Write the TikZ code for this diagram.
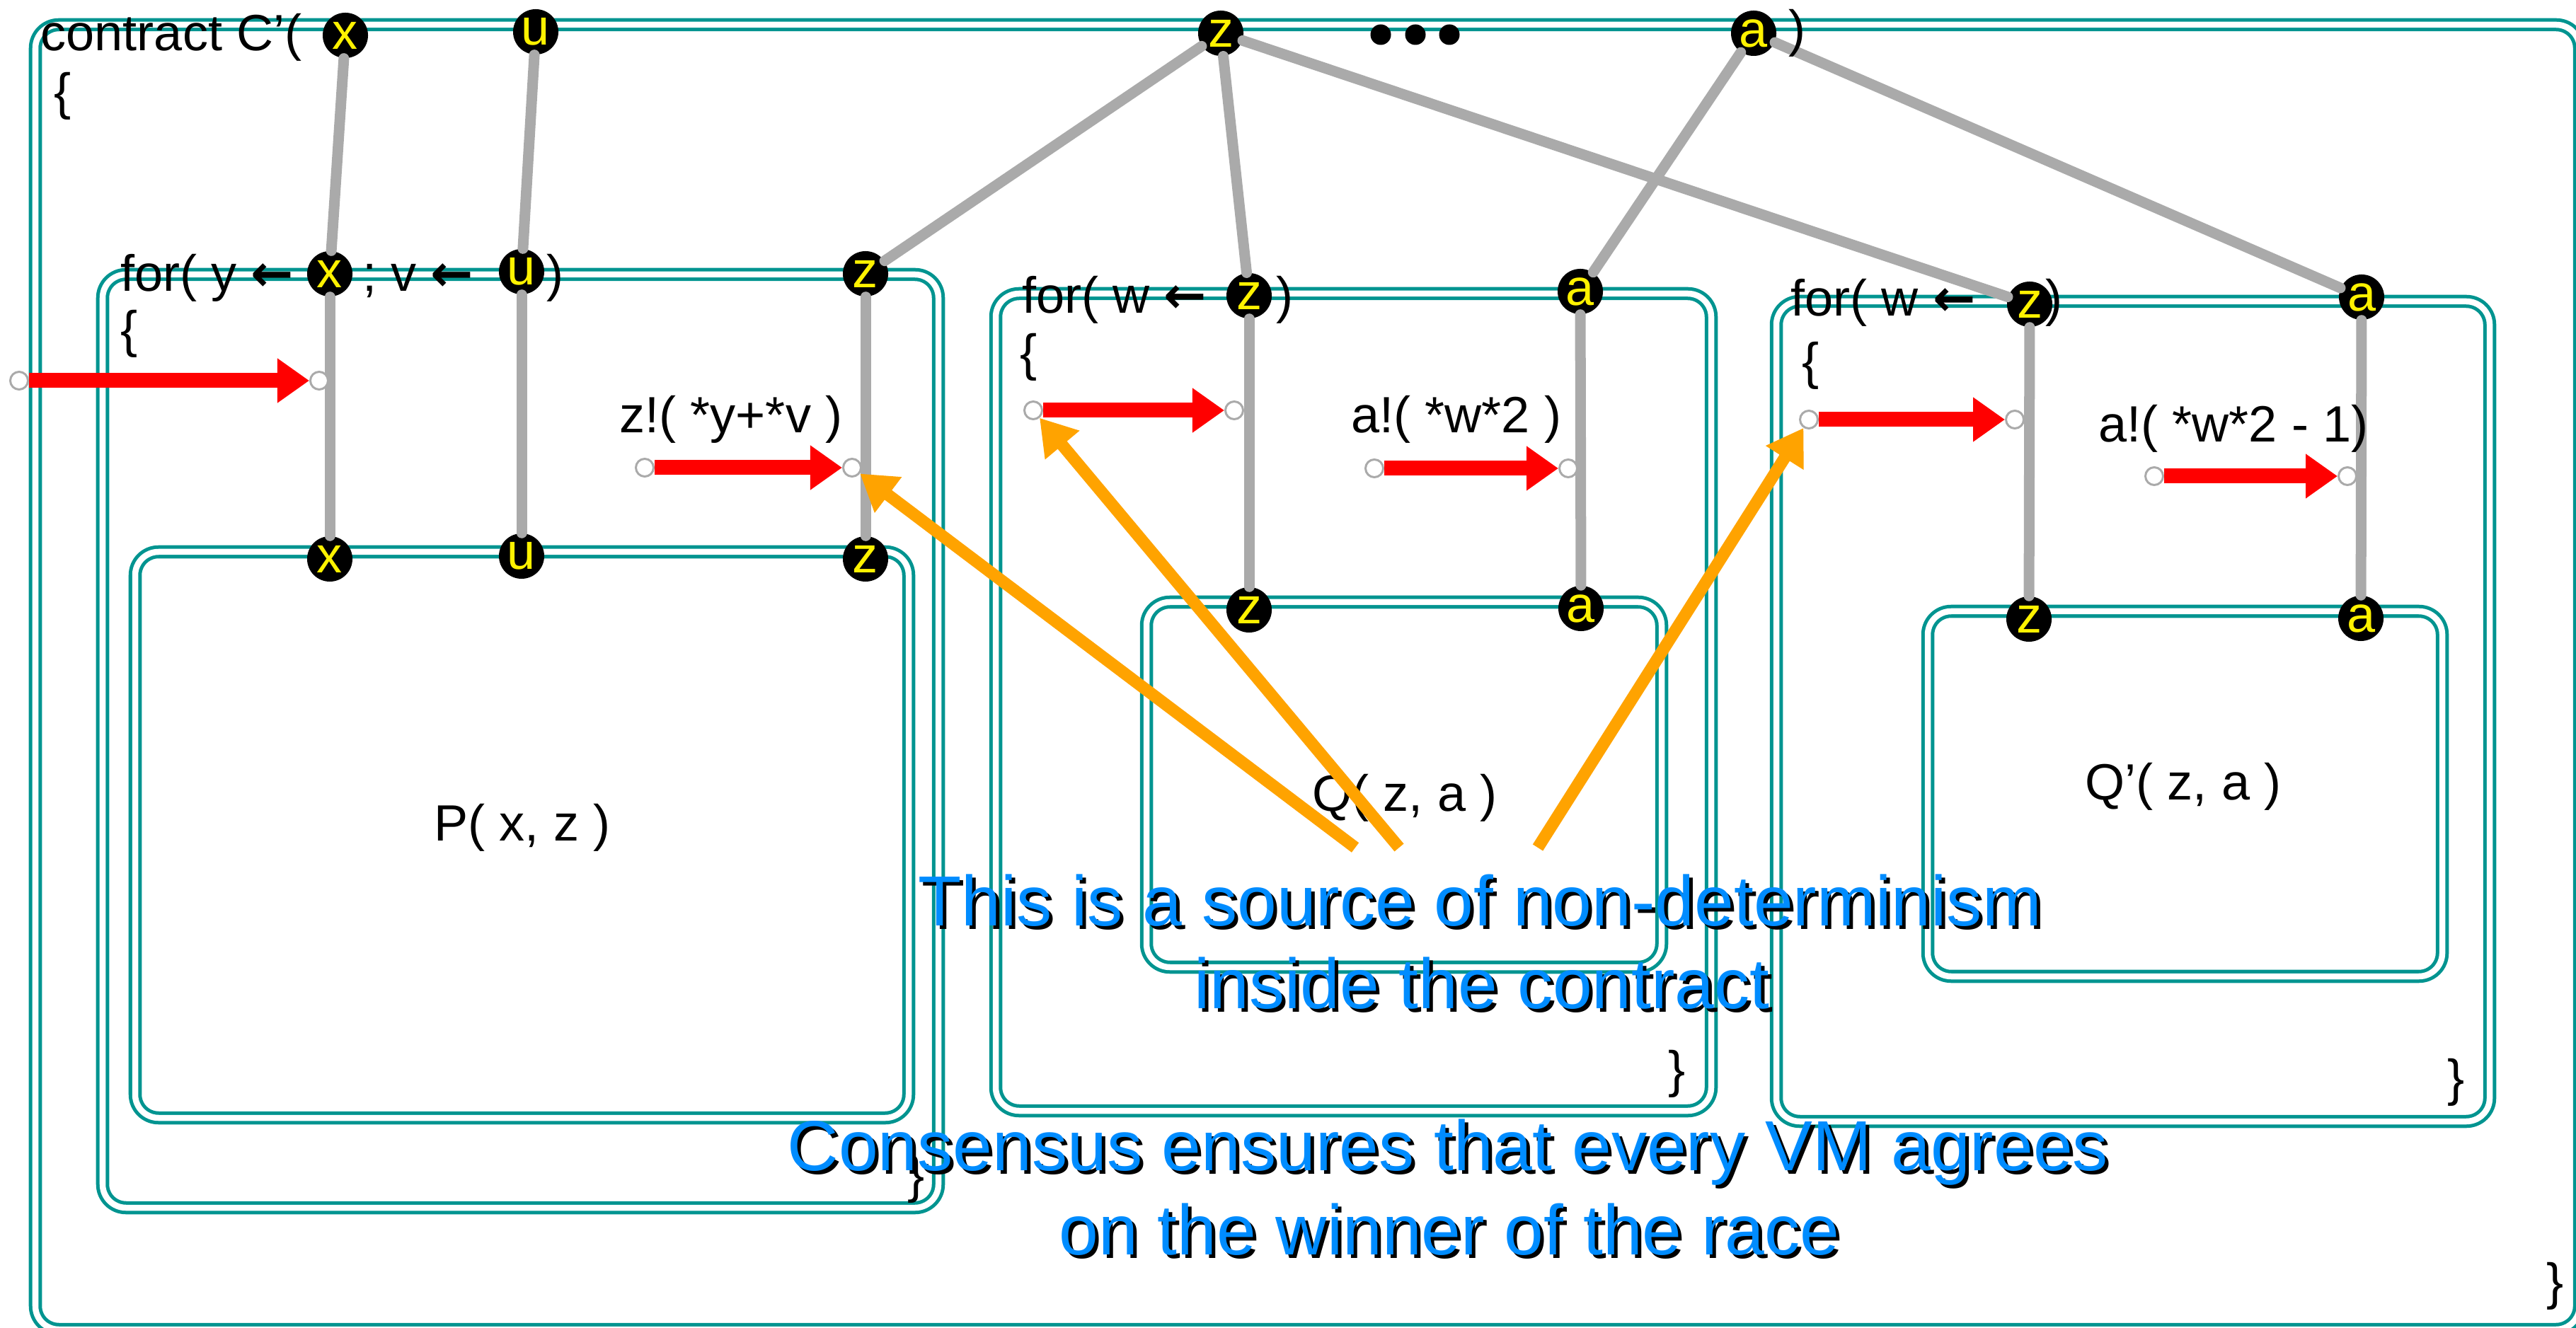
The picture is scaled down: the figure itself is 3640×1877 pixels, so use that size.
\documentclass[tikz,border=0pt]{standalone}
\usepackage{fontspec}
\setmainfont{Liberation Sans}
\newfontfamily\arrowfont{DejaVu Sans}
\usetikzlibrary{
  arrows.meta,
  calc
}
\definecolor{boxteal}{RGB}{0,148,144}
\definecolor{wiregray}{RGB}{170,170,170}
\definecolor{hintorange}{RGB}{255,163,0}
\definecolor{noteblue}{RGB}{0,140,255}
\newcommand{\getsarrow}{{\arrowfont\bfseries ←}}
% blue remark with a black drop shadow
\newcommand{\shadowline}[3]{%
  \node[note, text=black] at ($(#2)+(5,5)$) {#3};
  \node[note] (#1) at (#2) {#3};}

\begin{document}
\begin{tikzpicture}[
  x=0.01cm, y=-0.01cm,
  font=\fontsize{20.5}{24}\selectfont,
  scopebox/.style={
    draw=boxteal, double=white, double distance=0.085cm,
    line width=0.05cm, rounded corners=0.33cm
  },
  chan/.style={
    circle, fill=black, text=yellow, inner sep=0pt, minimum size=0.64cm
  },
  port/.style={
    circle, draw=wiregray, fill=white, line width=0.03cm,
    inner sep=0pt, minimum size=0.25cm
  },
  wire/.style={wiregray, line width=0.15cm, line cap=round},
  send/.style={-{Triangle[length=0.45cm,width=0.6cm]}, red, line width=0.21cm},
  hint/.style={-{Triangle[length=0.5cm,width=0.6cm]}, hintorange, line width=0.17cm},
  code/.style={inner sep=0pt, anchor=base west},
  brace/.style={inner sep=0pt},
  note/.style={inner sep=0pt, anchor=base, text=noteblue,
    font=\fontsize{28.5}{34}\selectfont},
]
\useasboundingbox (0,0) rectangle (3640,1877);

% Scopes: contract, three loops, three bodies
\draw[scopebox] (50,35) rectangle (3645,1879);
\draw[scopebox] (145,388) rectangle (1326,1707);
\draw[scopebox] (191,780) rectangle (1284,1580);
\draw[scopebox] (1407,415) rectangle (2418,1570);
\draw[scopebox] (1620,851) rectangle (2348,1367);
\draw[scopebox] (2510,426) rectangle (3518,1585);
\draw[scopebox] (2724,864) rectangle (3451,1380);

% Channels of the contract (top row)
\node[chan] (xtop) at (488,50)  {x};
\node[chan] (utop) at (757,45)  {u};
\node[chan] (ztop) at (1725,47) {z};
\node[chan] (atop) at (2478,47) {a};
\foreach \dx in {1951,2000,2048}
  \fill (\dx,49) circle (0.145cm);

% Channels of the loops
\node[chan] (xfor)  at (466,387)  {x};
\node[chan] (ufor)  at (737,384)  {u};
\node[chan] (zforp) at (1223,387) {z};
\node[chan] (zforq) at (1765,418) {z};
\node[chan] (aforq) at (2233,412) {a};
\node[chan] (zforr) at (2868,430) {z};
\node[chan] (aforr) at (3337,420) {a};

% Channels of the bodies
\node[chan] (xp) at (466,790)  {x};
\node[chan] (up) at (737,786)  {u};
\node[chan] (zp) at (1223,790) {z};
\node[chan] (zq) at (1765,862) {z};
\node[chan] (aq) at (2234,860) {a};
\node[chan] (zr) at (2867,875) {z};
\node[chan] (ar) at (3336,874) {a};

% Wires between scopes
\draw[wire] (xtop) -- (xfor);
\draw[wire] (utop) -- (ufor);
\draw[wire] (ztop) -- (zforp);
\draw[wire] (ztop) -- (zforq);
\draw[wire] (ztop) -- (zforr);
\draw[wire] (atop) -- (aforq);
\draw[wire] (atop) -- (aforr);
\draw[wire] (xfor) -- (xp);
\draw[wire] (ufor) -- (up);
\draw[wire] (zforp) -- (zp);
\draw[wire] (zforq) -- (zq);
\draw[wire] (aforq) -- (aq);
\draw[wire] (zforr) -- (zr);
\draw[wire] (aforr) -- (ar);

% Ports of the sends
\node[port] (inxa) at (27,538)   {};
\node[port] (inxb) at (451,538)  {};
\node[port] (outza) at (911,661)  {};
\node[port] (outzb) at (1204,661) {};
\node[port] (inqa) at (1460,580)  {};
\node[port] (inqb) at (1744,580)  {};
\node[port] (outqa) at (1942,662) {};
\node[port] (outqb) at (2216,662) {};
\node[port] (inra) at (2556,593)  {};
\node[port] (inrb) at (2847,593)  {};
\node[port] (outra) at (3044,673) {};
\node[port] (outrb) at (3317,673) {};

\draw[send] (inxa) -- (inxb);
\draw[send] (outza) -- (outzb);
\draw[send] (inqa) -- (inqb);
\draw[send] (outqa) -- (outqb);
\draw[send] (inra) -- (inrb);
\draw[send] (outra) -- (outrb);

% Code text
\node[code] (head) at (57,72) {contract C’(};
\node[code] (headend) at (2527,66) {)};
\node[brace] (lbc) at (89,136) {\{};
\node[brace] (rbc) at (3610,1818) {\}};

\node[code] (forp) at (170,412) {for( y \getsarrow};
\node[code] (forpmid) at (512,412) {; v \getsarrow};
\node[code] (forpend) at (772,412) {)};
\node[brace] (lbp) at (183,472) {\{};
\node[code] (sendz) at (875,612) {z!( *y+*v )};
\node (bodyp) at (738,1170) {P( x, z )};
\node[brace] (rbp) at (1295,1667) {\}};

\node[code] (forq) at (1444,443) {for( w \getsarrow};
\node[code] (forqend) at (1803,443) {)};
\node[brace] (lbq) at (1454,505) {\{};
\node[code] (sendaq) at (1909,612) {a!( *w*2 )};
\node (bodyq) at (1985,1128) {Q( z, a )};
\node[brace] (rbq) at (2370,1518) {\}};

\node[code] (forr) at (2530,447) {for( w \getsarrow};
\node[code] (forrend) at (2890,447) {)};
\node[brace] (lbr) at (2558,517) {\{};
\node[code] (sendar) at (2965,625) {a!( *w*2 - 1)};
\node (bodyr) at (3085,1112) {Q’( z, a )};
\node[brace] (rbr) at (3470,1530) {\}};

% Race pointers
\coordinate (racea) at (1915,1198);
\coordinate (raceb) at (1977,1198);
\coordinate (racec) at (2173,1198);
\draw[hint] (racea) -- (outzb);
\draw[hint] (raceb) -- (inqa);
\draw[hint] (racec) -- (inra);

% Remarks
\shadowline{notea}{2091,1308}{This is a source of non-determinism}
\shadowline{noteb}{2094,1425}{inside the contract}
\shadowline{notec}{2046,1654}{Consensus ensures that every VM agrees}
\shadowline{noted}{2048,1773}{on the winner of the race}

\end{tikzpicture}
\end{document}
